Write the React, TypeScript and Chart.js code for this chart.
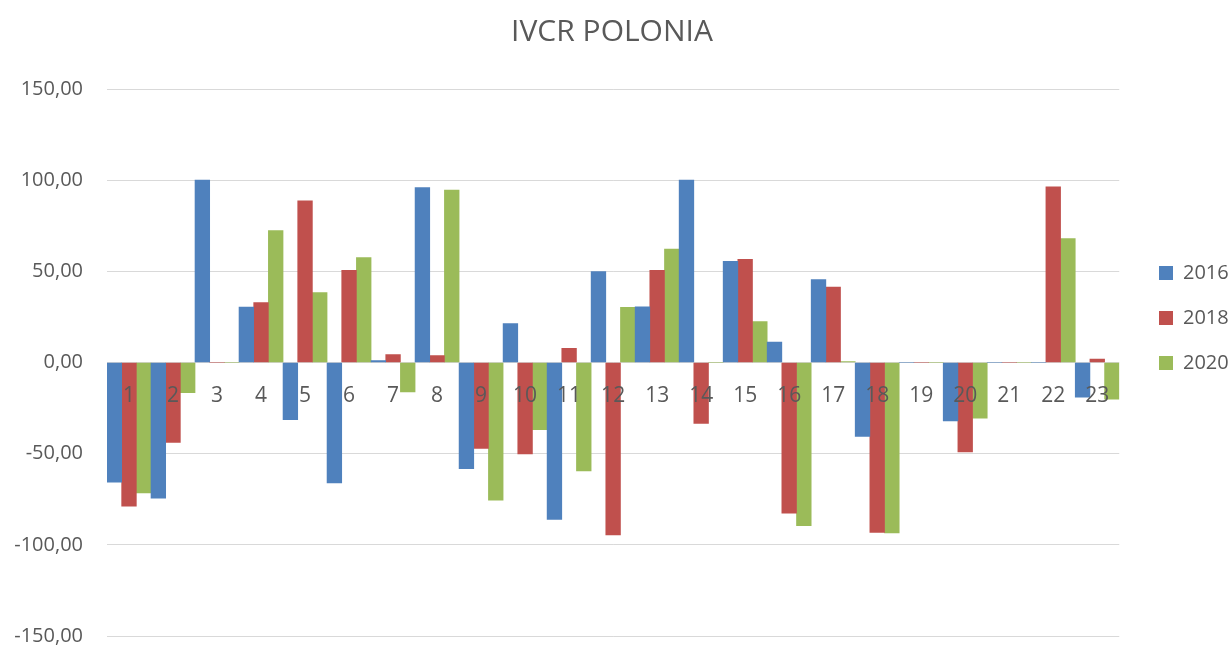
import React, { useEffect, useRef } from "react";
import { Chart, registerables } from "chart.js";

Chart.register(...registerables);

const categories = ["1","2","3","4","5","6","7","8","9","10","11","12","13","14","15","16","17","18","19","20","21","22","23"];
const values2016 = [-65.7, -74.4, 100, 30.4, -31.4, -66, 1.1, 96, -58.2, 21.4, -86.1, 49.8, 30.5, 100, 55.5, 11.2, 45.5, -40.5, 0, -32.1, 0, 0, -19];
const values2018 = [-78.8, -43.8, 0, 32.8, 88.6, 50.5, 4.4, 3.8, -47.1, -50.2, 7.8, -94.6, 50.5, -33.4, 56.6, -82.6, 41.3, -93.2, 0, -49.1, 0, 96.4, 1.9];
const values2020 = [-71.5, -16.5, 0, 72.4, 38.3, 57.5, -16.1, 94.5, -75.5, -36.9, -59.5, 30.2, 62.2, 0, 22.5, -89.5, 0.5, -93.4, 0, -30.5, 0, 68, -20.1];
const seriesLabels = ["2016", "2018", "2020"];
const seriesColors = ["#4f81bd", "#c0504d", "#9bbb59"];
const yMin = -150;
const yMax = 150;
const yStep = 50;
const titleText = "IVCR POLONIA";

const FONT = "'Open Sans', 'Noto Sans', sans-serif";
const TEXT = "#595959";

export default function App() {
  const ref = useRef<HTMLCanvasElement | null>(null);

  useEffect(() => {
    if (!ref.current) return;
    const legendShift = {
      id: "legendShift",
      afterLayout(chart: any) {
        const lg = chart.legend;
        if (!lg) return;
        const w = lg.right - lg.left;
        lg.left = 1134;
        lg.right = lg.left + w;
      },
    };
    const chart = new Chart(ref.current, {
      type: "bar",
      data: {
        labels: categories,
        datasets: [values2016, values2018, values2020].map((d, i) => ({
          label: seriesLabels[i],
          data: d,
          backgroundColor: seriesColors[i],
          borderWidth: 0,
          categoryPercentage: 1,
          barPercentage: 1,
        })),
      },
      options: {
        responsive: false,
        animation: false,
        layout: { padding: { left: 0, right: 7, top: 0, bottom: 10 } },
        plugins: {
          title: {
            display: true,
            text: titleText,
            color: TEXT,
            font: { family: FONT, size: 30, weight: "normal" },
            padding: { top: 14, bottom: 39 },
          },
          legend: {
            position: "right",
            labels: {
              boxWidth: 14,
              boxHeight: 14,
              padding: 25,
              color: TEXT,
              font: { family: FONT, size: 20 },
            },
          },
          tooltip: { enabled: false },
        },
        scales: {
          x: {
            position: { y: 0 } as any,
            grid: { display: false },
            border: { display: false },
            ticks: {
              z: 1,
              color: TEXT,
              font: { family: FONT, size: 21 },
              padding: 13,
              maxRotation: 0,
              autoSkip: false,
            },
            afterFit(scale: any) {
              scale.height = 0;
            },
          },
          y: {
            min: yMin,
            max: yMax,
            grid: { color: "#d9d9d9", lineWidth: 1, drawTicks: false },
            border: { display: false },
            ticks: {
              stepSize: yStep,
              color: TEXT,
              padding: 24,
              font: { family: FONT, size: 20 },
              callback: (v: any) => Number(v).toFixed(2).replace(".", ","),
            },
            afterFit(scale: any) {
              scale.width = 107;
              scale.paddingTop = 0;
              scale.paddingBottom = 10;
            },
          },
        },
      },
      plugins: [legendShift],
    });
    return () => chart.destroy();
  }, []);

  return (
    <div style={{ position: "absolute", left: 0, top: 0, width: 1231, height: 646, background: "#fff" }}>
      <canvas ref={ref} width={1231} height={646} style={{ display: "block" }} />
    </div>
  );
}
